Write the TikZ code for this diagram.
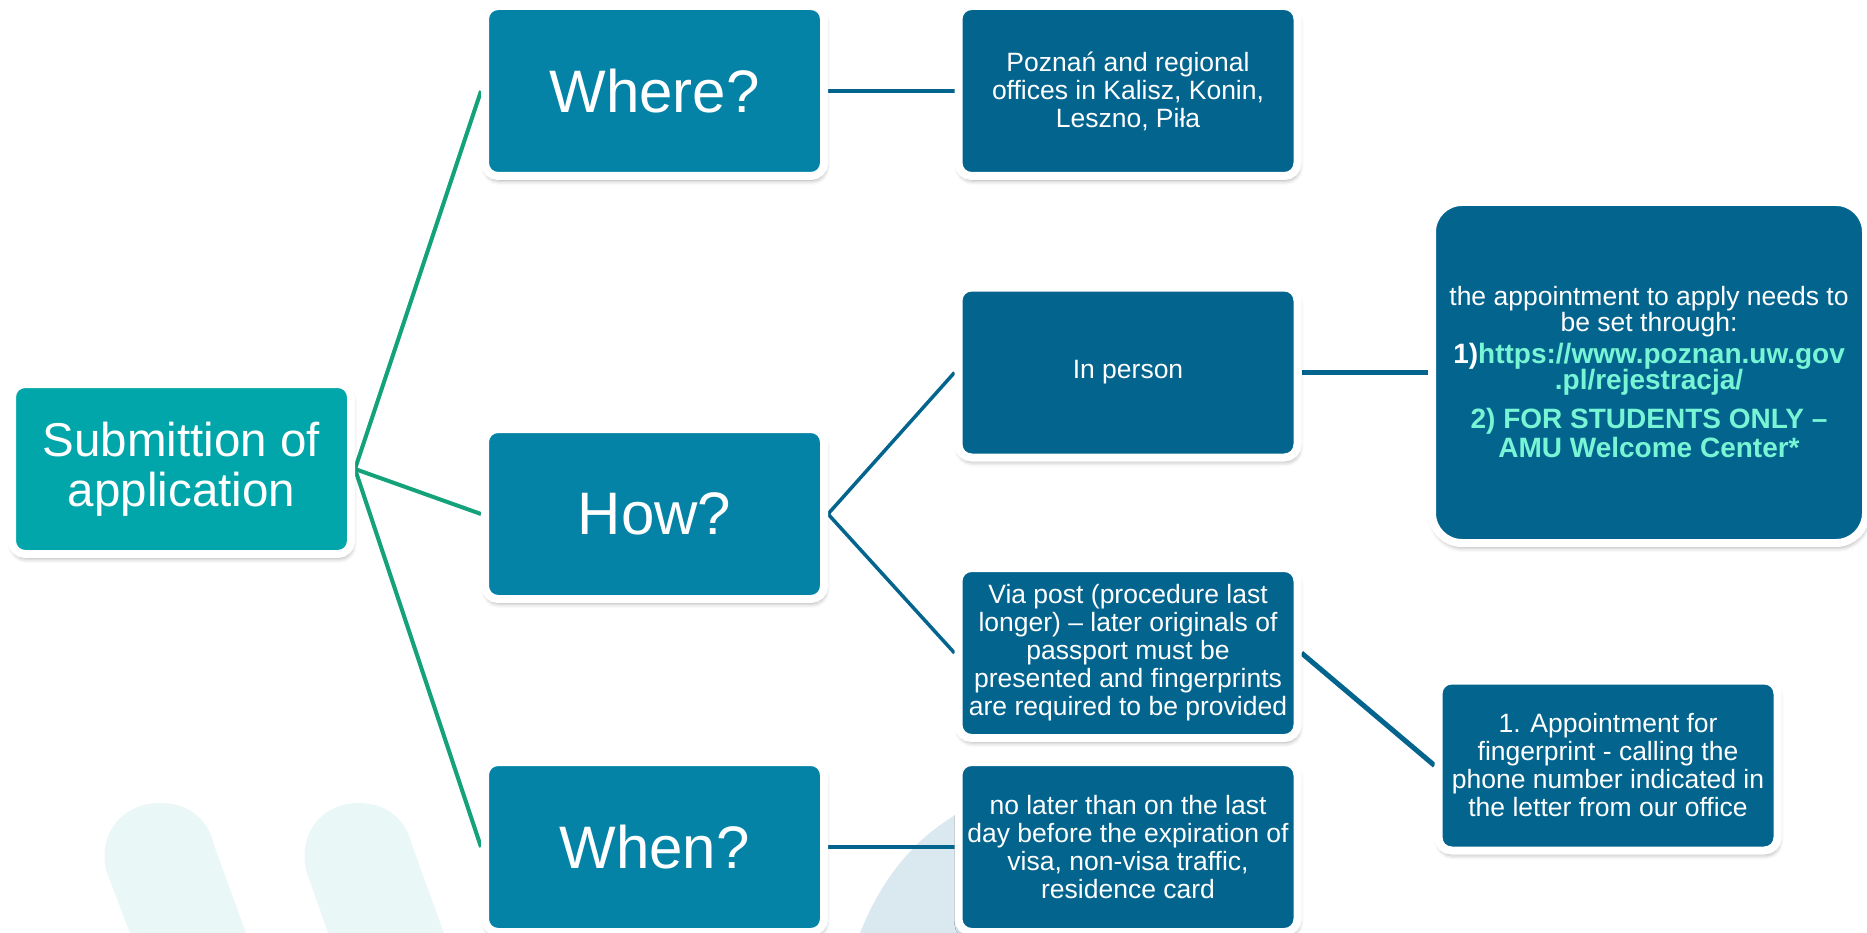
\documentclass[tikz,border=0pt]{standalone}
\usepackage{fontspec}
\setmainfont{Liberation Sans}
\usetikzlibrary{shadows.blur,backgrounds}
\definecolor{lvlA}{RGB}{0,166,169}
\definecolor{lvlB}{RGB}{4,131,166}
\definecolor{lvlC}{RGB}{3,100,142}
\definecolor{grn}{RGB}{20,162,122}
\definecolor{lnk}{RGB}{120,245,212}
\definecolor{wmA}{RGB}{234,247,247}
\definecolor{wmB}{RGB}{218,232,240}
\newcommand\boldline{\fontsize{28}{28}\selectfont\bfseries}
\begin{document}
\begin{tikzpicture}[x=1pt,y=-1pt,
  card/.style={draw=white, line width=8pt, rounded corners=13pt, text=white,
    align=center, inner sep=0pt, minimum width=339pt, minimum height=170pt,
    blur shadow={shadow xshift=1pt, shadow yshift=-4pt, shadow blur radius=5pt, shadow opacity=40}},
  rootcard/.style={card, fill=lvlA, font=\fontsize{47.5}{50}\selectfont},
  midcard/.style={card, fill=lvlB, font=\fontsize{60}{64}\selectfont},
  leafcard/.style={card, fill=lvlC, font=\fontsize{26.5}{28}\selectfont},
  greenlink/.style={draw=grn, line width=4pt},
  bluelink/.style={draw=lvlC, line width=3.5pt},
  thicklink/.style={draw=lvlC, line width=5pt}
]
\useasboundingbox (0,0) rectangle (1867,933);

% boxes
\node[rootcard] (sub) at (181.5,469) {Submittion of\\application};
\node[midcard] (where) at (654.5,91) {Where?};
\node[midcard] (how) at (654.5,514) {How?};
\node[midcard] (when) at (654.5,847) {When?};

\node[leafcard] (pozn) at (1128,91) {Poznań and regional\\offices in Kalisz, Konin,\\Leszno, Piła};
\node[leafcard] (inperson) at (1128,372.5) {In person};
\node[leafcard] (viapost) at (1128,653) {Via post (procedure last\\longer) – later originals of\\passport must be\\presented and fingerprints\\are required to be provided};
\node[leafcard] (nolater) at (1128,847) {no later than on the last\\day before the expiration of\\visa, non-visa traffic,\\residence card};

\node[leafcard, rounded corners=30pt, minimum width=434pt, minimum height=341pt] (appt) at (1649,372.5)
  {the appointment to apply needs to\\[-2.5pt]
   be set through:\\[4pt]
   \boldline 1){\color{lnk}https://www.poznan.uw.gov}\\[-2pt]
   \boldline{\color{lnk}.pl/rejestracja/}\\[11.5pt]
   \boldline{\color{lnk}2) FOR STUDENTS ONLY –}\\[1pt]
   \boldline{\color{lnk}AMU Welcome Center*}};

\node[leafcard] (finger) at (1608,765.5) {1. Appointment for\\fingerprint - calling the\\phone number indicated in\\the letter from our office};

\begin{pgfonlayer}{background}
  % faint watermark shapes
  \fill[wmA] (130,933) -- (106,870) .. controls (98,830) and (125,803) .. (160,803)
     .. controls (190,803) and (208,820) .. (214,845) -- (246,933) -- cycle;
  \fill[wmA] (328,933) -- (306,870) .. controls (298,830) and (325,803) .. (358,803)
     .. controls (388,803) and (406,820) .. (412,845) -- (444,933) -- cycle;
  \fill[wmB] (860,933) .. controls (885,870) and (925,825) .. (985,800) -- (985,933) -- cycle;
  % connectors
  \draw[greenlink] (sub.east) -- (where.west);
  \draw[greenlink] (sub.east) -- (how.west);
  \draw[greenlink] (sub.east) -- (when.west);
  \draw[bluelink] (where.east) -- (pozn.west);
  \draw[bluelink] (how.east) -- (inperson.west);
  \draw[bluelink] (how.east) -- (viapost.west);
  \draw[bluelink] (when.east) -- (nolater.west);
  \draw[thicklink] (inperson.east) -- (appt.west);
  \draw[thicklink] (viapost.east) -- (finger.west);
\end{pgfonlayer}
\end{tikzpicture}
\end{document}
